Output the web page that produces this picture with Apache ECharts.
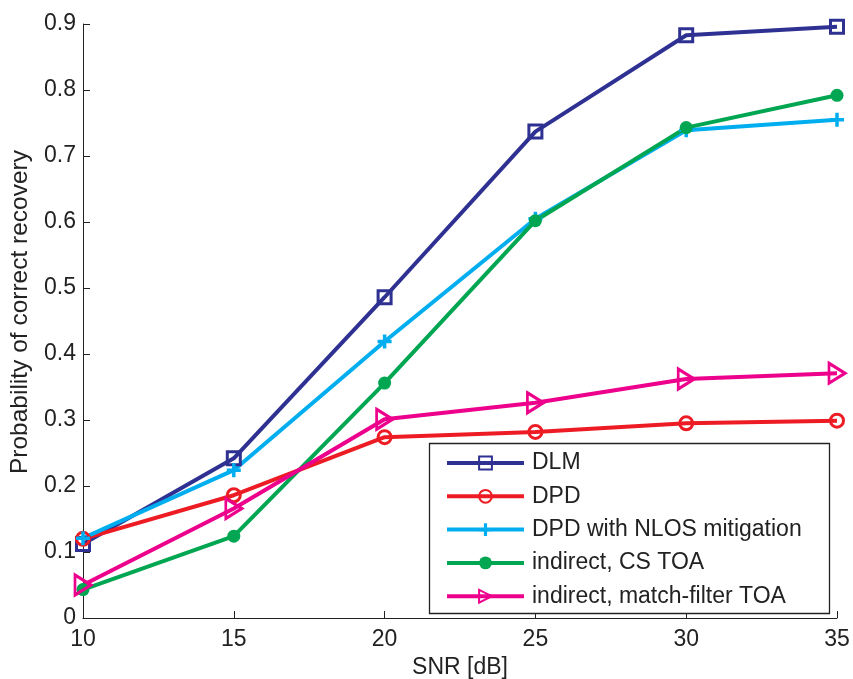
<!DOCTYPE html>
<html><head><meta charset="utf-8">
<script src="https://cdn.jsdelivr.net/npm/echarts@6/dist/echarts.min.js"></script>
<style>html,body{margin:0;padding:0;background:#fff}#c{width:853px;height:679px}</style>
</head><body><div id="c"></div>
<script>
var snr = [10, 15, 20, 25, 30, 35];
var dlm = [0.112, 0.242, 0.486, 0.737, 0.883, 0.896];
var dpd = [0.120, 0.186, 0.274, 0.282, 0.295, 0.299];
var nlos = [0.121, 0.224, 0.419, 0.605, 0.739, 0.755];
var csToa = [0.043, 0.124, 0.356, 0.602, 0.743, 0.792];
var mfToa = [0.050, 0.166, 0.301, 0.326, 0.362, 0.371];
var names = ['DLM', 'DPD', 'DPD with NLOS mitigation', 'indirect, CS TOA', 'indirect, match-filter TOA'];
var xTicks = [10, 15, 20, 25, 30, 35];

var FONT = 'Liberation Sans, Arial, Helvetica, sans-serif';
var TXT = '#222';
function pairs(v){ return snr.map(function(x,i){ return [x, v[i]]; }); }
var plusPath = 'path://M-1,-4H1V-1H4V1H1V4H-1V1H-4V-1H-1Z';
var triPath = 'path://M0,0L1.6,1L0,2Z';

function mk(name, data, color, symbol, size, filled) {
  return {
    name: name, type: 'line', data: pairs(data), z: 2,
    symbol: symbol, symbolSize: size,
    lineStyle: { color: color, width: 4 },
    itemStyle: filled ? { color: color, borderColor: color, borderWidth: 0 }
                      : { color: 'rgba(255,255,255,0)', borderColor: color, borderWidth: 3 },
    emphasis: { disabled: true }
  };
}

var chart = echarts.init(document.getElementById('c'), null, { renderer: 'canvas' });
chart.setOption({
  animation: false,
  backgroundColor: '#fff',
  grid: { left: 83, right: 16, top: 24, bottom: 61, containLabel: false, outerBoundsMode: 'none' },
  xAxis: {
    type: 'value', min: 10, max: 35, interval: 5,
    name: 'SNR [dB]', nameLocation: 'middle', nameGap: 33,
    nameTextStyle: { fontFamily: FONT, fontSize: 23, color: TXT },
    axisLine: { show: true, lineStyle: { color: TXT, width: 1 } },
    axisTick: { show: true, inside: true, length: 7, lineStyle: { color: TXT } },
    axisLabel: { fontFamily: FONT, fontSize: 23, color: TXT, margin: 10,
      formatter: function(v){ return xTicks.indexOf(v) >= 0 ? String(v) : ''; } },
    splitLine: { show: false }
  },
  yAxis: {
    type: 'value', min: 0, max: 0.9, interval: 0.1,
    name: 'Probability of correct recovery', nameLocation: 'middle', nameGap: 50,
    nameTextStyle: { fontFamily: FONT, fontSize: 24.5, color: TXT, padding: [0, 0, 0, 18] },
    axisLine: { show: true, lineStyle: { color: TXT, width: 1 } },
    axisTick: { show: true, inside: true, length: 7, lineStyle: { color: TXT } },
    axisLabel: { fontFamily: FONT, fontSize: 23, color: TXT, margin: 7,
      formatter: function(v){ return v === 0 ? '0' : v.toFixed(1); } },
    splitLine: { show: false }
  },
  graphic: [{
    type: 'rect', z: 3, silent: true,
    shape: { x: 429.5, y: 443.5, width: 400, height: 170 },
    style: { fill: '#fff', stroke: TXT, lineWidth: 1.3 }
  }],
  legend: {
    z: 5, orient: 'vertical', left: 445, top: 451.5, padding: 0,
    itemWidth: 77, itemHeight: 16, itemGap: 10.3,
    lineStyle: { width: 4 },
    textStyle: { fontFamily: FONT, fontSize: 23, color: TXT, padding: [0,0,0,3] },
    data: names
  },
  series: [
    mk(names[0], dlm, '#2e3192', 'rect', 13, false),
    mk(names[1], dpd, '#ed1c24', 'circle', 13, false),
    mk(names[2], nlos, '#00aeef', plusPath, 14, true),
    mk(names[3], csToa, '#00a651', 'circle', 13, true),
    mk(names[4], mfToa, '#ec008c', triPath, [16, 20], false)
  ]
});
</script></body></html>
